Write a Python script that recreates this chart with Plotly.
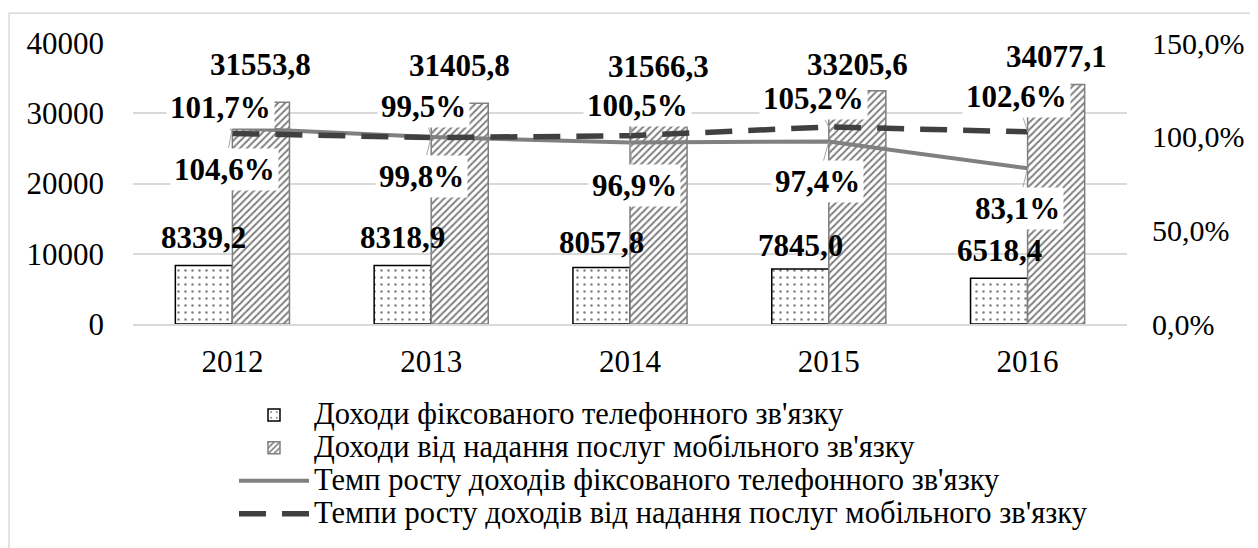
import plotly.graph_objects as go

years = [2012, 2013, 2014, 2015, 2016]
fixed_income = [8339.2, 8318.9, 8057.8, 7845.0, 6518.4]
mobile_income = [31553.8, 31405.8, 31566.3, 33205.6, 34077.1]
fixed_growth = [104.6, 99.8, 96.9, 97.4, 83.1]
mobile_growth = [101.7, 99.5, 100.5, 105.2, 102.6]

right_tickvals = [0, 50, 100, 150]
right_ticktext = ["0,0%", "50,0%", "100,0%", "150,0%"]

names = [
    "Доходи фіксованого телефонного зв'язку",
    "Доходи від надання послуг мобільного зв'язку",
    "Темп росту доходів фіксованого телефонного зв'язку",
    "Темпи росту доходів від надання послуг мобільного зв'язку",
]

FONT = "Liberation Serif"
LBL = 31

def leg(n):
    return '<span style="font-size:30.5px">' + n + '</span>'

fig = go.Figure()
fig.add_trace(go.Bar(
    x=years, y=fixed_income, name=leg(names[0]),
    marker=dict(color="white", line=dict(color="black", width=1.5),
                pattern=dict(shape=".", fgcolor="black", bgcolor="white", size=7, solidity=0.1)),
))
fig.add_trace(go.Bar(
    x=years, y=mobile_income, name=leg(names[1]),
    marker=dict(color="white", line=dict(color="#7f7f7f", width=1.5),
                pattern=dict(shape="/", fgcolor="black", bgcolor="white", size=5, solidity=0.4)),
))
fig.add_trace(go.Scatter(
    x=years, y=fixed_growth, name=leg(names[2]), yaxis="y2", mode="lines",
    line=dict(color="#808080", width=4),
))
fig.add_trace(go.Scatter(
    x=years, y=mobile_growth, name=leg(names[3]), yaxis="y2", mode="lines",
    line=dict(color="#404040", width=5.5, dash="27px,16px"),
))

# label offsets (pixels)
fixed_lbl_dy = [28, 28, 25, 23, 28]
mobile_lbl_dy = [38, 38, 36, 26, 28]
fg_off = [(-8, 41), (-10, 39), (4, 43), (-11, 40), (-10, 40)]
mg_off = [(-12, -26), (-8, -31), (7, -30), (-15, -28), (-11, -35)]

def fmt(v, dec=1):
    return f"{v:.{dec}f}".replace(".", ",")

ann = []
half = 28.5
for i, yr in enumerate(years):
    ann.append(dict(x=yr, y=fixed_income[i], xref="x", yref="y", text="<b>" + fmt(fixed_income[i]) + "</b>",
                    showarrow=False, xshift=-half, yshift=fixed_lbl_dy[i], yanchor="middle",
                    font=dict(family=FONT, size=LBL, color="black")))
    ann.append(dict(x=yr, y=mobile_income[i], xref="x", yref="y", text="<b>" + fmt(mobile_income[i]) + "</b>",
                    showarrow=False, xshift=half, yshift=mobile_lbl_dy[i], yanchor="middle",
                    font=dict(family=FONT, size=LBL, color="black")))
    ann.append(dict(x=yr, y=fixed_growth[i], xref="x", yref="y2", text="<b>" + fmt(fixed_growth[i]) + "%</b>",
                    showarrow=True, arrowhead=0, arrowwidth=1, arrowcolor="#a6a6a6",
                    ax=fg_off[i][0], ay=fg_off[i][1], bgcolor="white", borderpad=3,
                    font=dict(family=FONT, size=LBL, color="black")))
    ann.append(dict(x=yr, y=mobile_growth[i], xref="x", yref="y2", text="<b>" + fmt(mobile_growth[i]) + "%</b>",
                    showarrow=True, arrowhead=0, arrowwidth=1, arrowcolor="#a6a6a6",
                    ax=mg_off[i][0], ay=mg_off[i][1], bgcolor="white", borderpad=3,
                    font=dict(family=FONT, size=LBL, color="black")))

# plot area in screenshot pixels: x 133..1127, y 43..327 (page has an 8px body margin)
def py(page_y):
    return (327 - page_y) / 284

fig.update_layout(
    width=1250, height=540,
    margin=dict(l=125, r=131, t=35, b=221),
    paper_bgcolor="white", plot_bgcolor="white",
    font=dict(family=FONT, size=30, color="black"),
    separators=", ",
    barmode="group", bargap=0.426, bargroupgap=0,
    xaxis=dict(range=[2011.5, 2016.5], tickvals=years, tickformat="d", showline=True,
               linecolor="#d9d9d9", linewidth=1.5, ticks="", showgrid=False, zeroline=False,
               ticklabelstandoff=9, tickfont=dict(family=FONT, size=31)),
    yaxis=dict(range=[0, 40000], dtick=10000, tickformat="d", showgrid=True,
               gridcolor="#d9d9d9", gridwidth=1.5, zeroline=False, showline=False,
               ticklabelstandoff=28, tickfont=dict(family=FONT, size=31)),
    yaxis2=dict(overlaying="y", side="right", range=[0, 150], tickvals=right_tickvals,
                ticktext=right_ticktext, showgrid=False, zeroline=False,
                ticklabelstandoff=24, tickfont=dict(family=FONT, size=30)),
    legend=dict(orientation="v", x=0.1016, xanchor="left", y=py(469), yanchor="middle",
                font=dict(family=FONT, size=23), itemwidth=70, bgcolor="rgba(0,0,0,0)",
                traceorder="normal", tracegroupgap=0),
    annotations=ann,
    shapes=[dict(type="rect", xref="paper", yref="paper", x0=-0.1247, x1=1.3, y0=-1.5, y1=py(13),
                 line=dict(color="#d9d9d9", width=1.5), fillcolor="rgba(0,0,0,0)", layer="below")],
)

fig.write_html("out.html")
